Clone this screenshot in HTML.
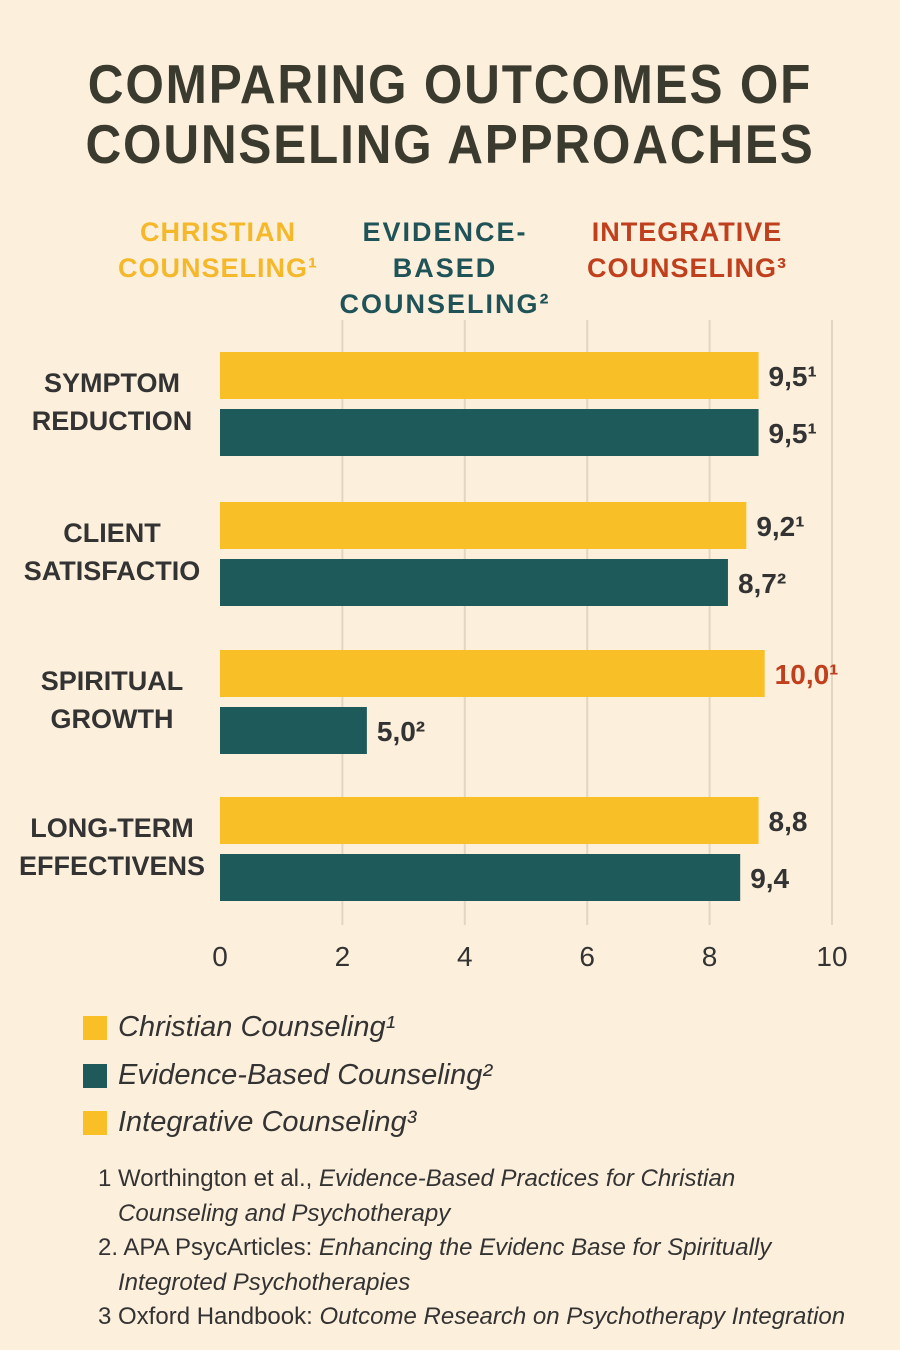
<!DOCTYPE html>
<html><head><meta charset="utf-8"><style>
body{margin:0;background:#fcefdc;}
#root{position:relative;width:900px;height:1350px;background:#fcefdc;font-family:"Liberation Sans","DejaVu Sans",sans-serif;overflow:hidden;}
.t{position:absolute;white-space:nowrap;}
</style></head><body>
<div id="root">
<div class="t" style="left:0;width:900px;text-align:center;top:54px;font-size:55px;line-height:60px;font-weight:bold;color:#3b3a2f;letter-spacing:2px;transform:scaleX(0.9);transform-origin:450px 0;">COMPARING OUTCOMES OF<br>COUNSELING APPROACHES</div>
<div class="t" style="left:118px;top:214px;font-size:27px;line-height:36px;font-weight:bold;color:#f4b82a;text-align:center;width:200px;letter-spacing:1px;">CHRISTIAN<br>COUNSELING¹</div>
<div class="t" style="left:335px;top:214px;font-size:27px;line-height:36px;font-weight:bold;color:#1f5358;text-align:center;width:220px;letter-spacing:2px;">EVIDENCE-<br>BASED<br>COUNSELING²</div>
<div class="t" style="left:582px;top:214px;font-size:27px;line-height:36px;font-weight:bold;color:#c0401e;text-align:center;width:210px;letter-spacing:1px;">INTEGRATIVE<br>COUNSELING³</div>
<svg id="chart" width="900" height="1000" style="position:absolute;left:0;top:0"></svg>
<div>
<div class="t" style="left:83px;top:1016px;width:24px;height:24px;background:#f9bf26;"></div>
<div class="t" style="left:118px;top:1011px;font-size:29px;font-style:italic;color:#333;">Christian Counseling¹</div>
<div class="t" style="left:83px;top:1064px;width:24px;height:24px;background:#1e5a5a;"></div>
<div class="t" style="left:118px;top:1059px;font-size:29px;font-style:italic;color:#333;">Evidence-Based Counseling²</div>
<div class="t" style="left:83px;top:1111px;width:24px;height:24px;background:#f9bf26;"></div>
<div class="t" style="left:118px;top:1106px;font-size:29px;font-style:italic;color:#333;">Integrative Counseling³</div>
</div>
<div class="t" style="left:98px;top:1162px;font-size:24px;line-height:34.5px;color:#333;white-space:pre;">1 Worthington et al., <i>Evidence-Based Practices for Christian</i>
   <i>Counseling and Psychotherapy</i>
2. APA PsycArticles: <i>Enhancing the Evidenc Base for Spiritually</i>
   <i>Integroted Psychotherapies</i>
3 Oxford Handbook: <i>Outcome Research on Psychotherapy Integration</i></div>
</div>
<script>
const categories=[["SYMPTOM","REDUCTION"],["CLIENT","SATISFACTIO"],["SPIRITUAL","GROWTH"],["LONG-TERM","EFFECTIVENS"]];
const christianValues=[8.8,8.6,8.9,8.8];
const evidenceValues=[8.8,8.3,2.4,8.5];
const christianLabels=["9,5¹","9,2¹","10,0¹","8,8"];
const evidenceLabels=["9,5¹","8,7²","5,0²","9,4"];
const tickValues=[0,2,4,6,8,10];
const tickLabels=["0","2","4","6","8","10"];
const NS="http://www.w3.org/2000/svg";
const svg=document.getElementById('chart');
const x0=220,unit=61.2;
function xs(v){return x0+v*unit;}
const groupTop=[352,502,650,797];
function mk(t,a){const e=document.createElementNS(NS,t);for(const k in a)e.setAttribute(k,a[k]);svg.appendChild(e);return e;}
tickValues.forEach((v,i)=>{
 if(v>0){const g=mk('line',{x1:xs(v),x2:xs(v),y1:320,y2:925,stroke:'#e2d6c2','stroke-width':2});
 
 }
 const t=mk('text',{x:xs(v),y:966,'text-anchor':'middle','font-size':28,fill:'#333','font-family':'Liberation Sans, sans-serif'});
 t.textContent=tickLabels[i];
 
 
});
categories.forEach((c,i)=>{
 const y=groupTop[i];
 const t=mk('text',{x:112,y:y+40,'text-anchor':'middle','font-size':27,'font-weight':'bold',fill:'#333','font-family':'Liberation Sans, sans-serif'});
 
 
 c.forEach((s,j)=>{const ts=document.createElementNS(NS,'tspan');ts.setAttribute('x',112);ts.setAttribute('dy',j?38:0);ts.textContent=s;t.appendChild(ts);});
 const b1=mk('rect',{x:x0,y:y,width:xs(christianValues[i])-x0,height:47,fill:'#f9bf26'});
 
 
 const b2=mk('rect',{x:x0,y:y+57,width:xs(evidenceValues[i])-x0,height:47,fill:'#1e5a5a'});
 
 
 const l1=mk('text',{x:xs(christianValues[i])+10,y:y+34,'font-size':28,'font-weight':'bold',fill:i==2?'#c0401e':'#333','font-family':'Liberation Sans, sans-serif'});
 l1.textContent=christianLabels[i];
 
 
 const l2=mk('text',{x:xs(evidenceValues[i])+10,y:y+91,'font-size':28,'font-weight':'bold',fill:'#333','font-family':'Liberation Sans, sans-serif'});
 l2.textContent=evidenceLabels[i];
 
 
});
</script>
</body></html>
